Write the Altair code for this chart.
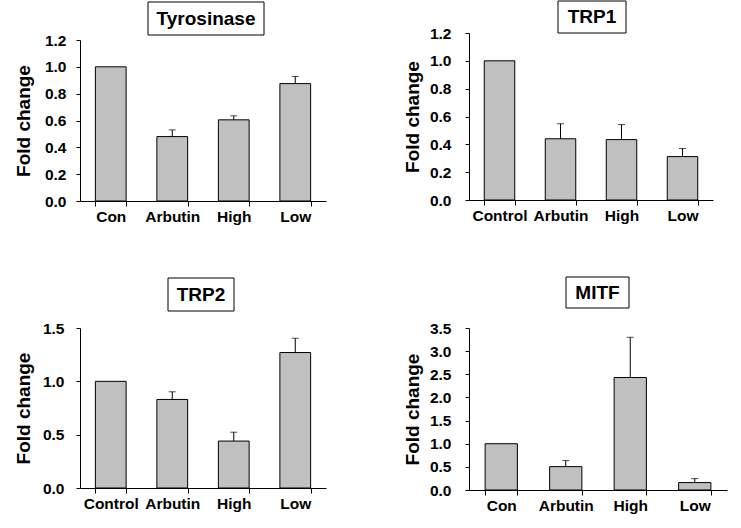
import altair as alt
import pandas as pd

FONT = "Liberation Sans"

# ---- data ----
tyr_cats = ["Con", "Arbutin", "High", "Low"]
tyr_vals = [1.0, 0.48, 0.605, 0.875]
tyr_errs = [0.0, 0.05, 0.03, 0.053]

trp1_cats = ["Control", "Arbutin", "High", "Low"]
trp1_vals = [1.0, 0.44, 0.434, 0.312]
trp1_errs = [0.0, 0.108, 0.108, 0.058]

trp2_cats = ["Control", "Arbutin", "High", "Low"]
trp2_vals = [1.0, 0.83, 0.44, 1.27]
trp2_errs = [0.0, 0.072, 0.083, 0.134]

mitf_cats = ["Con", "Arbutin", "High", "Low"]
mitf_vals = [1.0, 0.505, 2.43, 0.16]
mitf_errs = [0.0, 0.13, 0.87, 0.086]

panels = [
    dict(title="Tyrosinase", cats=tyr_cats, vals=tyr_vals, errs=tyr_errs,
         ymax=1.2, ystep=0.2, w=246, h=168, rng=[168, 7], box=(68, 184, -31, 2), lp=10),
    dict(title="TRP1", cats=trp1_cats, vals=trp1_vals, errs=trp1_errs,
         ymax=1.2, ystep=0.2, w=244, h=167, rng=None, box=(89, 157, -32, 0), lp=14),
    dict(title="TRP2", cats=trp2_cats, vals=trp2_vals, errs=trp2_errs,
         ymax=1.5, ystep=0.5, w=246, h=160, rng=None, box=(88, 154, -50, -17), lp=12),
    dict(title="MITF", cats=mitf_cats, vals=mitf_vals, errs=mitf_errs,
         ymax=3.5, ystep=0.5, w=258, h=162, rng=None, box=(97, 160, -51, -20), lp=14),
]


def make_panel(p):
    df = pd.DataFrame({"cat": p["cats"], "val": p["vals"], "err": p["errs"]})
    df["upper"] = df["val"] + df["err"]
    n_ticks = int(round(p["ymax"] / p["ystep"]))
    tick_vals = [round(i * p["ystep"], 2) for i in range(n_ticks + 1)]
    yscale_kw = dict(domain=[0, p["ymax"]], nice=False, zero=True)
    if p["rng"] is not None:
        yscale_kw["range"] = p["rng"]
    yscale = alt.Scale(**yscale_kw)
    xscale = alt.Scale(paddingInner=0.5, paddingOuter=0.25)

    xaxis = alt.Axis(labelAngle=0, tickBand="extent", tickSize=5,
                     labelPadding=3, labelFont=FONT, labelFontSize=15.5,
                     labelFontWeight="bold", labelColor="black",
                     domainColor="black", tickColor="black",
                     labelOverlap=False, labelBound=False, labelFlush=False,
                     grid=False)
    title_y = (p["rng"][0] + p["rng"][1]) / 2 if p["rng"] else p["h"] / 2
    yaxis = alt.Axis(values=tick_vals, format=".1f", tickSize=4,
                     labelPadding=p["lp"], labelFont=FONT, labelFontSize=15.5,
                     labelFontWeight="bold", labelColor="black",
                     domainColor="black", tickColor="black", grid=False,
                     titleFont=FONT, titleFontSize=19, titleFontWeight="bold",
                     titleColor="black", titleAngle=270, titleX=-57, titleY=title_y,
                     titleAlign="center", titleBaseline="middle",
                     labelOverlap=False)

    x = alt.X("cat:N", sort=p["cats"], scale=xscale, title=None, axis=xaxis)

    bars = alt.Chart(df).mark_bar(color="#c0c0c0", stroke="black", strokeWidth=1).encode(
        x=x, y=alt.Y("val:Q", scale=yscale, title="Fold change", axis=yaxis))
    base_err = alt.Chart(df).transform_filter("datum.err > 0")
    err_line = base_err.mark_rule(color="black", strokeWidth=1).encode(
        x=x,
        y=alt.Y("val:Q", scale=yscale, title="Fold change", axis=yaxis),
        y2="upper:Q")
    err_cap = base_err.mark_tick(color="black", thickness=1, size=7, orient="horizontal").encode(
        x=x,
        y=alt.Y("upper:Q", scale=yscale, title="Fold change", axis=yaxis))

    bx1, bx2, by1, by2 = p["box"]
    tdf = pd.DataFrame({"t": [p["title"]]})
    box = alt.Chart(tdf).mark_rect(fill="white", stroke="black", strokeWidth=1).encode(
        x=alt.value(bx1), x2=alt.value(bx2), y=alt.value(by1), y2=alt.value(by2))
    txt = alt.Chart(tdf).mark_text(font=FONT, fontSize=19, fontWeight="bold", color="black",
                                   align="center", baseline="middle").encode(
        x=alt.value((bx1 + bx2) / 2), y=alt.value((by1 + by2) / 2), text="t:N")

    return alt.layer(bars, err_line, err_cap, box, txt).properties(
        width=p["w"], height=p["h"])


charts = [make_panel(p) for p in panels]

chart = alt.concat(*charts, columns=2, spacing={"row": 127, "column": 143},
                   bounds="flush", align="each").properties(
    padding={"left": 14, "top": 0, "right": 5, "bottom": 5},
    background="white"
).configure_view(stroke="white", strokeOpacity=0, strokeWidth=1)

chart.save("out.html", embed_options={"renderer": "svg", "actions": False})
